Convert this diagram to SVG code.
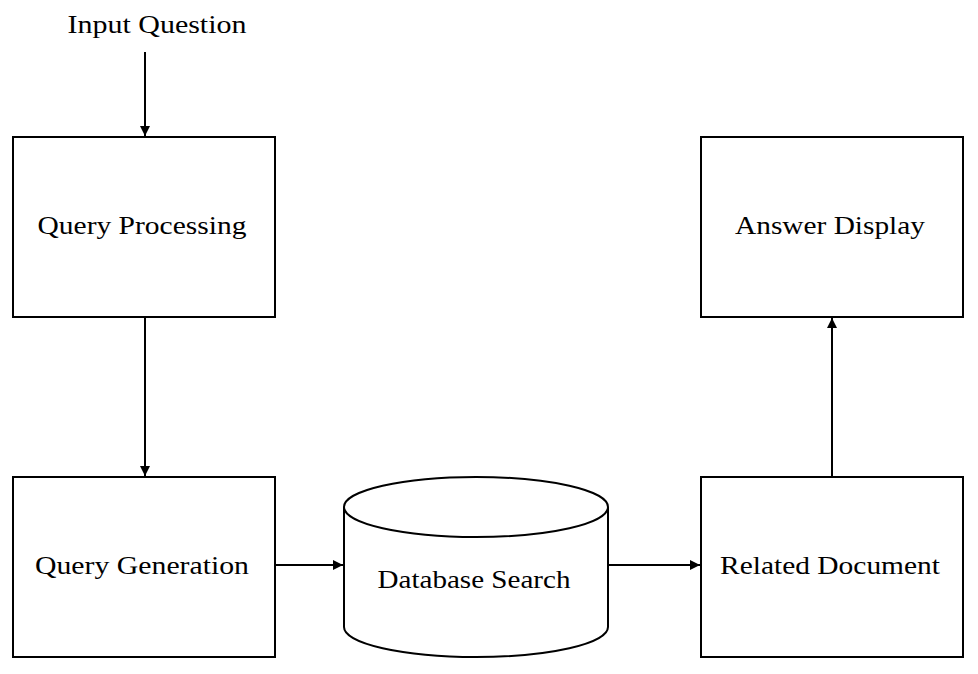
<svg xmlns="http://www.w3.org/2000/svg" width="978" height="674" viewBox="0 0 978 674">
<style>
.box{fill:#fff;stroke:#000;stroke-width:2}
.lbl{font-family:"Liberation Serif","DejaVu Serif",serif;font-size:26px;fill:#000;text-anchor:middle}
.edge{fill:none;stroke:#000;stroke-width:2}
</style>
<defs>
<marker id="arr" viewBox="0 0 10 10" refX="10" refY="5" markerWidth="10" markerHeight="10" markerUnits="userSpaceOnUse" orient="auto">
<path d="M0,0 L10,5 L0,10 Z" fill="#000"/>
</marker>
</defs>
<rect width="978" height="674" fill="#fff"/>
<g id="input">
<text class="lbl" x="157" y="33" textLength="179" lengthAdjust="spacingAndGlyphs">Input Question</text>
</g>
<g id="query-processing">
<rect class="box" x="13" y="137" width="262" height="180"/>
<text class="lbl" x="142" y="234" textLength="209" lengthAdjust="spacingAndGlyphs">Query Processing</text>
</g>
<g id="query-generation">
<rect class="box" x="13" y="477" width="262" height="180"/>
<text class="lbl" x="142" y="574" textLength="214" lengthAdjust="spacingAndGlyphs">Query Generation</text>
</g>
<g id="database-search">
<path class="box" d="M344,507 L344,627 A132,30 0 0 0 608,627 L608,507 A132,30 0 0 0 344,507 Z"/>
<path class="edge" d="M344,507 A132,30 0 0 0 608,507"/>
<text class="lbl" x="474" y="588" textLength="193" lengthAdjust="spacingAndGlyphs">Database Search</text>
</g>
<g id="related-document">
<rect class="box" x="701" y="477" width="262" height="180"/>
<text class="lbl" x="830" y="574" textLength="220" lengthAdjust="spacingAndGlyphs">Related Document</text>
</g>
<g id="answer-display">
<rect class="box" x="701" y="137" width="262" height="180"/>
<text class="lbl" x="830" y="234" textLength="190" lengthAdjust="spacingAndGlyphs">Answer Display</text>
</g>
<g id="connectors">
<line class="edge" x1="145" y1="52" x2="145" y2="136" marker-end="url(#arr)"/>
<line class="edge" x1="145" y1="317" x2="145" y2="476" marker-end="url(#arr)"/>
<line class="edge" x1="275" y1="565" x2="343" y2="565" marker-end="url(#arr)"/>
<line class="edge" x1="608" y1="565" x2="700" y2="565" marker-end="url(#arr)"/>
<line class="edge" x1="832" y1="477" x2="832" y2="318" marker-end="url(#arr)"/>
</g>
</svg>
